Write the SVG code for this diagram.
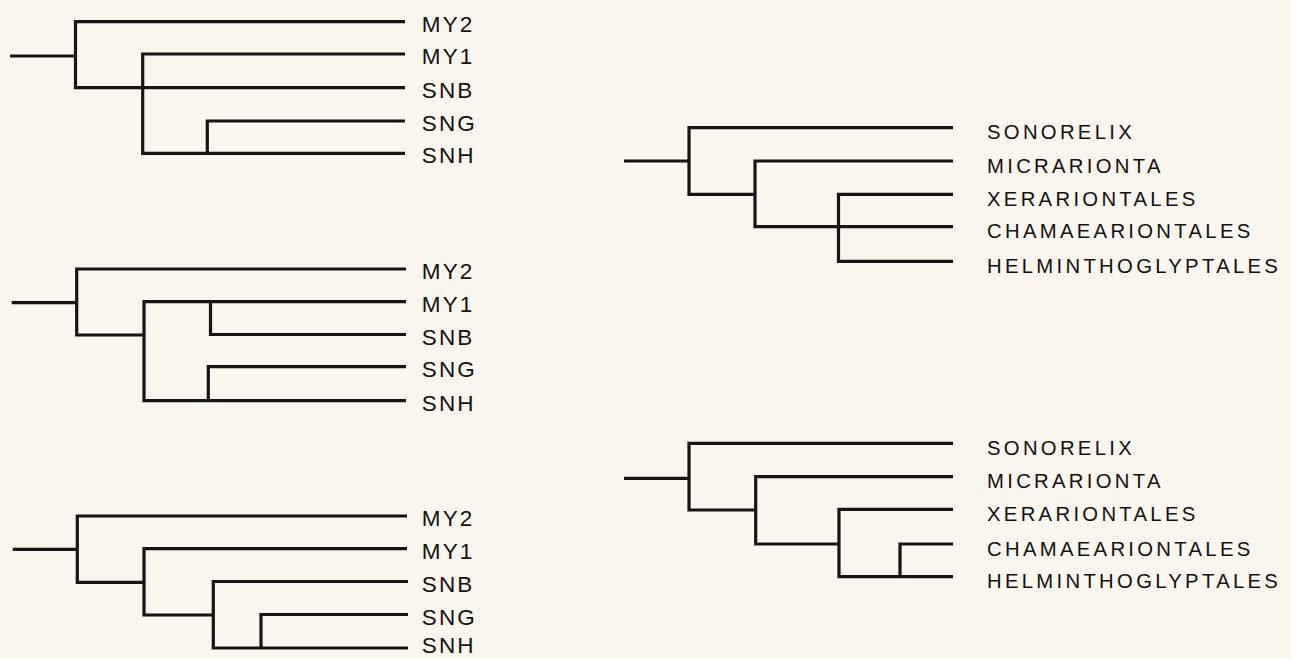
<svg xmlns="http://www.w3.org/2000/svg" width="1291" height="658" viewBox="0 0 1291 658">
<style>
.br{fill:none;stroke:#151515;stroke-width:3.2;stroke-linejoin:miter;stroke-linecap:butt}
.l{font-family:"Liberation Sans",Arial,sans-serif;font-size:22.5px;letter-spacing:2.2px;fill:#111}
.r{font-family:"Liberation Sans",Arial,sans-serif;font-size:20.3px;letter-spacing:3.3px;fill:#111}
</style>
<rect width="1291" height="658" fill="#faf6ee"/>
<g id="connectors">
  <g id="tree1-branches">
    <path class="br" d="M10,56 H75.5"/>
    <path class="br" d="M405,21.7 H75.5 V87.7 H405"/>
    <path class="br" d="M405,54 H142.7 V153.3 H405"/>
    <path class="br" d="M405,121 H207.3 V153.3"/>
  </g>
  <g id="tree2-branches">
    <path class="br" d="M11.7,302.7 H76.7"/>
    <path class="br" d="M406,269 H76.7 V335 H144"/>
    <path class="br" d="M406,301.7 H144 V400.7 H406"/>
    <path class="br" d="M406,334.5 H210.5 V301.7"/>
    <path class="br" d="M406,366.7 H208.3 V400.7"/>
  </g>
  <g id="tree3-branches">
    <path class="br" d="M12.7,549.3 H77.3"/>
    <path class="br" d="M407,516 H77.3 V582.3 H144"/>
    <path class="br" d="M407,548.6 H144 V615 H213.3"/>
    <path class="br" d="M408,581.5 H213.3 V648 H408"/>
    <path class="br" d="M408,614.5 H261 V648"/>
  </g>
  <g id="tree4-branches">
    <path class="br" d="M624,161 H689"/>
    <path class="br" d="M953,127.7 H689 V194.3 H755"/>
    <path class="br" d="M953,161 H755 V226.7 H953"/>
    <path class="br" d="M953,194.3 H838.5 V261.3 H953"/>
  </g>
  <g id="tree5-branches">
    <path class="br" d="M624,478.3 H689"/>
    <path class="br" d="M953,443.3 H689 V510 H755.7"/>
    <path class="br" d="M953,476.7 H755.7 V544 H839"/>
    <path class="br" d="M953,509.3 H839 V576.7 H953"/>
    <path class="br" d="M953,544 H900 V576.7"/>
  </g>
</g>
<g id="tree1">
  <g id="t1-MY2"><text class="l" x="421.7" y="31.7">MY2</text></g>
  <g id="t1-MY1"><text class="l" x="421.7" y="64">MY1</text></g>
  <g id="t1-SNB"><text class="l" x="421.7" y="97.7">SNB</text></g>
  <g id="t1-SNG"><text class="l" x="421.7" y="131">SNG</text></g>
  <g id="t1-SNH"><text class="l" x="421.7" y="163.3">SNH</text></g>
</g>
<g id="tree2">
  <g id="t2-MY2"><text class="l" x="421.7" y="279">MY2</text></g>
  <g id="t2-MY1"><text class="l" x="421.7" y="311.7">MY1</text></g>
  <g id="t2-SNB"><text class="l" x="421.7" y="344.5">SNB</text></g>
  <g id="t2-SNG"><text class="l" x="421.7" y="376.7">SNG</text></g>
  <g id="t2-SNH"><text class="l" x="421.7" y="410.7">SNH</text></g>
</g>
<g id="tree3">
  <g id="t3-MY2"><text class="l" x="421.7" y="526">MY2</text></g>
  <g id="t3-MY1"><text class="l" x="421.7" y="558.6">MY1</text></g>
  <g id="t3-SNB"><text class="l" x="421.7" y="591.5">SNB</text></g>
  <g id="t3-SNG"><text class="l" x="421.7" y="624.5">SNG</text></g>
  <g id="t3-SNH"><text class="l" x="421.7" y="653">SNH</text></g>
</g>
<g id="tree4">
  <g id="t4-sonorelix"><text class="r" x="987" y="139.2">SONORELIX</text></g>
  <g id="t4-micrarionta"><text class="r" x="987" y="172.5">MICRARIONTA</text></g>
  <g id="t4-xerariontales"><text class="r" x="987" y="205.8">XERARIONTALES</text></g>
  <g id="t4-chamaeariontales"><text class="r" x="987" y="238.2">CHAMAEARIONTALES</text></g>
  <g id="t4-helminthoglyptales"><text class="r" x="987" y="272.8">HELMINTHOGLYPTALES</text></g>
</g>
<g id="tree5">
  <g id="t5-sonorelix"><text class="r" x="987" y="454.8">SONORELIX</text></g>
  <g id="t5-micrarionta"><text class="r" x="987" y="488.2">MICRARIONTA</text></g>
  <g id="t5-xerariontales"><text class="r" x="987" y="520.8">XERARIONTALES</text></g>
  <g id="t5-chamaeariontales"><text class="r" x="987" y="555.5">CHAMAEARIONTALES</text></g>
  <g id="t5-helminthoglyptales"><text class="r" x="987" y="588.2">HELMINTHOGLYPTALES</text></g>
</g>
</svg>
